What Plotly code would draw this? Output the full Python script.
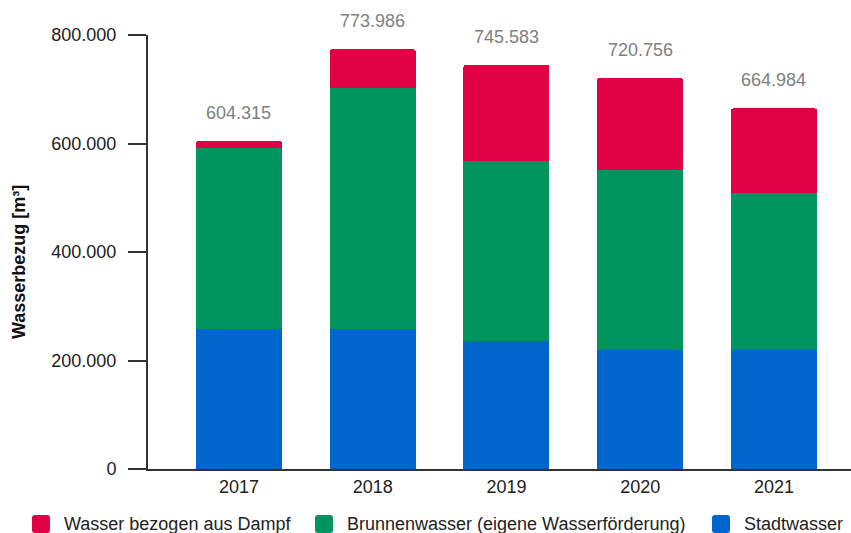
import plotly.graph_objects as go

# Annual water intake by source, in m³
years = ["2017", "2018", "2019", "2020", "2021"]
stadtwasser = [258000, 258000, 236500, 219500, 219500]
brunnenwasser = [333700, 445000, 332000, 332500, 288500]
dampfwasser = [12615, 70986, 177083, 168756, 156984]

series_names = [
    "Wasser bezogen aus Dampf",
    "Brunnenwasser (eigene Wasserförderung)",
    "Stadtwasser",
]
y_tickvals = [0, 200000, 400000, 600000, 800000]
y_ticktext = ["0", "200.000", "400.000", "600.000", "800.000"]
y_title = "Wasserbezug [m³]"

RED = "#E00045"
GREEN = "#00955E"
BLUE = "#0065CC"
FONT = "Liberation Sans, Arial, sans-serif"

W, H = 851, 533
ML, MR, MT, MB = 148, 0, 35, 64
PLOT_W = W - ML - MR
PLOT_H = H - MT - MB


def px_x(px):
    """Pixel column -> paper x."""
    return (px - ML) / PLOT_W


def px_y(py):
    """Pixel row -> paper y."""
    return (H - MB - py) / PLOT_H


fig = go.Figure()

# Stacked bars, bottom to top
for name, vals, col in [
    (series_names[2], stadtwasser, BLUE),
    (series_names[1], brunnenwasser, GREEN),
    (series_names[0], dampfwasser, RED),
]:
    fig.add_trace(go.Bar(
        x=years, y=vals, name=name, marker_color=col,
        marker_line_width=0, showlegend=False, hoverinfo="x+y+name",
    ))


def fmt(v):
    return f"{v:,}".replace(",", ".")


# Stack totals above each bar
totals = [s + b + d for s, b, d in zip(stadtwasser, brunnenwasser, dampfwasser)]
for i, tot in enumerate(totals):
    fig.add_annotation(
        x=i, y=tot, xref="x", yref="y", text=fmt(tot), showarrow=False,
        yanchor="middle", yshift=28,
        font=dict(family=FONT, size=18, color="#808080"),
    )

# Legend row along the bottom: rounded swatch + label
legend_items = [
    (series_names[0], RED, 32),
    (series_names[1], GREEN, 315),
    (series_names[2], BLUE, 712),
]
LEG_CY = 524
SW = 18
for name, col, x0 in legend_items:
    x1 = x0 + SW
    y0, y1 = LEG_CY - SW / 2, LEG_CY + SW / 2
    r = 3
    path = (
        f"M {x0 + r} {y0} L {x1 - r} {y0} Q {x1} {y0} {x1} {y0 + r} "
        f"L {x1} {y1 - r} Q {x1} {y1} {x1 - r} {y1} "
        f"L {x0 + r} {y1} Q {x0} {y1} {x0} {y1 - r} "
        f"L {x0} {y0 + r} Q {x0} {y0} {x0 + r} {y0} Z"
    )
    # convert the pixel path into paper coordinates
    toks = path.split()
    out = []
    is_x = True
    for t in toks:
        if t in ("M", "L", "Q", "Z"):
            out.append(t)
            is_x = True
            continue
        v = float(t)
        out.append(f"{px_x(v):.5f}" if is_x else f"{px_y(v):.5f}")
        is_x = not is_x
    fig.add_shape(
        type="path", path=" ".join(out), xref="paper", yref="paper",
        fillcolor=col, line=dict(width=0), layer="above",
    )
    fig.add_annotation(
        x=px_x(x1 + 12), y=px_y(LEG_CY), xref="paper", yref="paper",
        text=name, showarrow=False, xanchor="left", yanchor="middle",
        font=dict(family=FONT, size=18, color="#222222"),
    )

# Vertical axis title
fig.add_annotation(
    x=px_x(19), y=px_y(262), xref="paper", yref="paper",
    text=f"<b>{y_title}</b>", textangle=-90, showarrow=False,
    xanchor="center", yanchor="middle",
    font=dict(family=FONT, size=18, color="#111111"),
)

fig.update_layout(
    width=W, height=H,
    margin=dict(l=ML, r=MR, t=MT, b=MB, autoexpand=False),
    paper_bgcolor="white", plot_bgcolor="white",
    barmode="stack", bargap=0.357, barcornerradius=3,
    font=dict(family=FONT, size=18, color="#222222"),
    showlegend=False,
    xaxis=dict(
        type="category",
        range=[-0.68, 4.576], showline=True, linecolor="#333333", linewidth=2,
        ticks="", showgrid=False, zeroline=False,
        tickfont=dict(size=18, color="#222222"),
    ),
    yaxis=dict(
        range=[0, 800000], tickvals=y_tickvals, ticktext=y_ticktext,
        showline=True, linecolor="#333333", linewidth=2,
        ticks="outside", ticklen=18, tickwidth=2, tickcolor="#333333",
        showgrid=False, zeroline=False, ticklabelstandoff=8,
        tickfont=dict(size=18, color="#222222"),
    ),
)

fig.write_html("out.html")
